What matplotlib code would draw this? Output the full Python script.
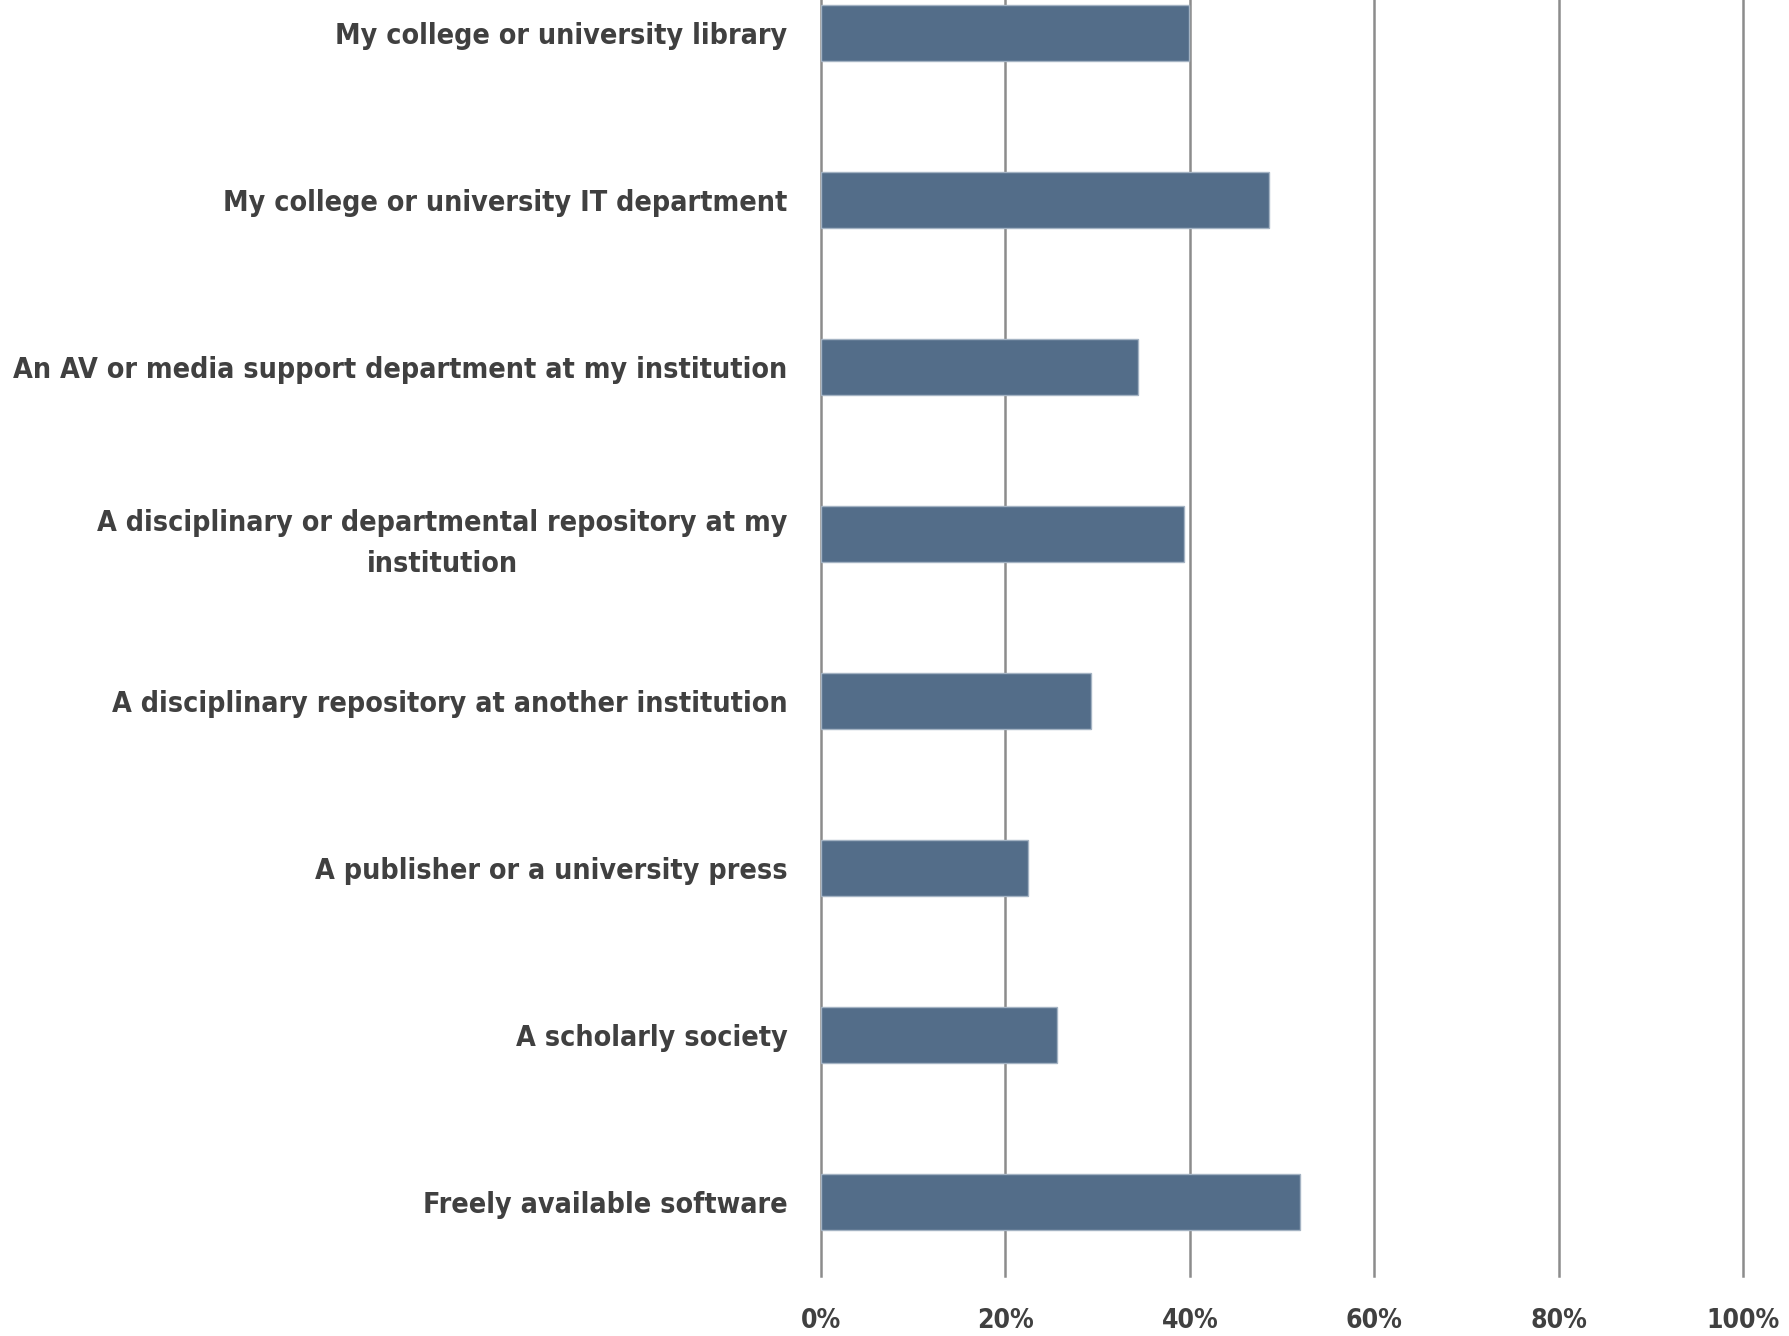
import matplotlib.pyplot as plt
from matplotlib.ticker import PercentFormatter

# sources of support, top to bottom as in the chart
categories = [
    'My college or university library',
    'My college or university IT department',
    'An AV or media support department at my institution',
    'A disciplinary or departmental repository at my\ninstitution',
    'A disciplinary repository at another institution',
    'A publisher or a university press',
    'A scholarly society',
    'Freely available software',
]
shares = [39.9, 48.6, 34.4, 39.4, 29.3, 22.4, 25.6, 51.9]
xticks = [0, 20, 40, 60, 80, 100]

# narrow bold sans, close to the reference face
plt.rcParams['font.family'] = ['DejaVu Sans']
plt.rcParams['font.stretch'] = 'condensed'
plt.rcParams['font.weight'] = 'bold'

fig = plt.figure(figsize=(17.9, 13.36), dpi=100)
ax = fig.add_axes([0.4587, 0.0449, 0.5150, 0.9929])

ypos = list(range(len(categories)))
ax.barh(ypos, shares, height=0.335, color='#536d89', edgecolor='#a4b3c3',
        linewidth=1.0, zorder=3)

ax.set_xlim(0, 100)
ax.set_ylim(7.443, -0.5)
ax.set_xticks(xticks)
ax.xaxis.set_major_formatter(PercentFormatter(decimals=0))
ax.set_yticks(ypos)
ax.set_yticklabels(categories, ha='right', multialignment='center')
for lab in ax.get_yticklabels():
    lab.set_linespacing(1.6)

ax.grid(axis='x', color='#8c8c8c', linewidth=1.8, zorder=0)
for gl in ax.get_xgridlines():
    gl.set_clip_on(False)  # keep the 100% line whole at the right edge
for s in ax.spines.values():
    s.set_visible(False)
ax.tick_params(axis='both', length=0, colors='#404040')
ax.tick_params(axis='y', pad=24, labelsize=20.5)
ax.tick_params(axis='x', pad=23, labelsize=19)

fig.savefig('out.png', dpi=100)
